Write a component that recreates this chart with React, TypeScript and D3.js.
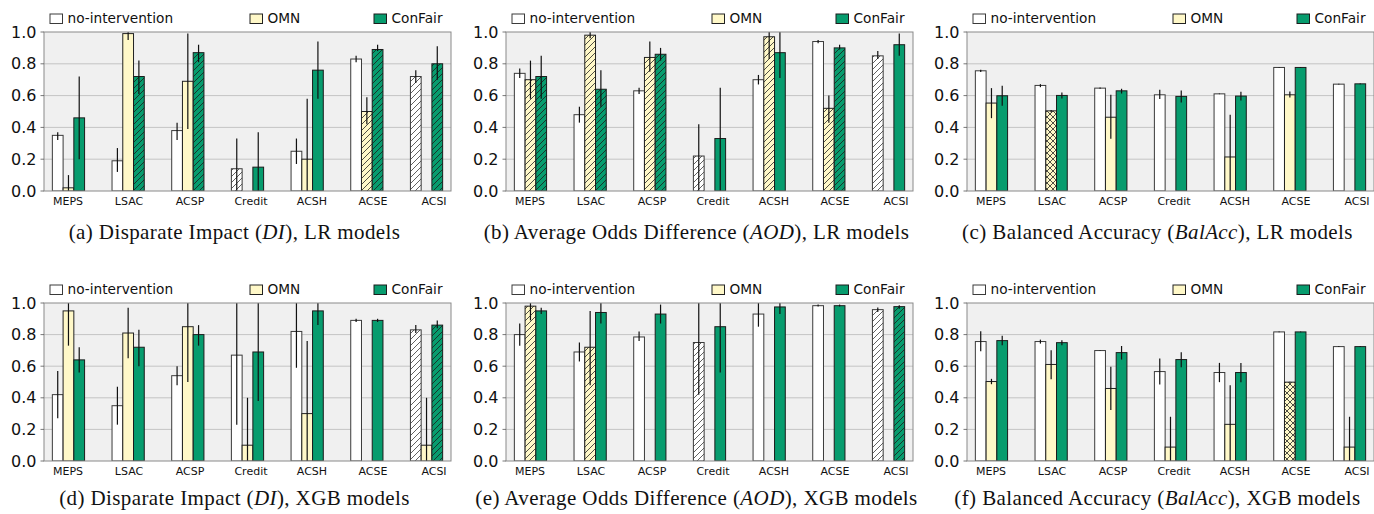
import React from "react";
import * as d3 from "d3";

// ---------- data ----------
const categories = ["MEPS", "LSAC", "ACSP", "Credit", "ACSH", "ACSE", "ACSI"];
const methods = ["no-intervention", "OMN", "ConFair"];
const yTicks = [0, 0.2, 0.4, 0.6, 0.8, 1.0];

// (a) DI, LR  — rows: no-intervention, OMN, ConFair
const aVals = [
  [0.35, 0.19, 0.38, 0.14, 0.25, 0.83, 0.72],
  [0.02, 0.99, 0.69, 0.0, 0.2, 0.5, 0.0],
  [0.46, 0.72, 0.87, 0.15, 0.76, 0.89, 0.8],
];
const aLo = [
  [0.32, 0.12, 0.32, 0.0, 0.17, 0.81, 0.68],
  [0.0, 0.95, 0.39, 0.0, 0.0, 0.42, 0.0],
  [0.2, 0.61, 0.81, 0.0, 0.58, 0.88, 0.7],
];
const aHi = [
  [0.37, 0.27, 0.43, 0.33, 0.33, 0.85, 0.76],
  [0.1, 1.0, 0.99, 0.0, 0.58, 0.59, 0.0],
  [0.72, 0.82, 0.92, 0.37, 0.94, 0.92, 0.91],
];
const aHatch = [
  ["", "", "", "/", "", "", "/"],
  ["", "", "", "", "", "/", ""],
  ["", "/", "/", "", "", "/", "/"],
];

// (b) AOD, LR
const bVals = [
  [0.74, 0.48, 0.63, 0.22, 0.7, 0.94, 0.85],
  [0.7, 0.98, 0.84, 0.0, 0.97, 0.52, 0.0],
  [0.72, 0.64, 0.86, 0.33, 0.87, 0.9, 0.92],
];
const bLo = [
  [0.71, 0.43, 0.61, 0.0, 0.67, 0.93, 0.83],
  [0.58, 0.96, 0.75, 0.0, 0.83, 0.43, 0.0],
  [0.58, 0.53, 0.82, 0.0, 0.71, 0.89, 0.85],
];
const bHi = [
  [0.77, 0.53, 0.65, 0.42, 0.73, 0.95, 0.88],
  [0.82, 1.0, 0.94, 0.0, 1.0, 0.6, 0.0],
  [0.85, 0.76, 0.9, 0.65, 1.0, 0.92, 0.99],
];
const bHatch = [
  ["", "", "", "/", "", "", "/"],
  ["/", "/", "/", "", "/", "/", ""],
  ["/", "/", "/", "", "", "/", ""],
];

// (c) BalAcc, LR
const cVals = [
  [0.756, 0.664, 0.647, 0.605, 0.611, 0.777, 0.672],
  [0.553, 0.504, 0.464, 0.0, 0.214, 0.605, 0.0],
  [0.599, 0.601, 0.63, 0.595, 0.597, 0.777, 0.674],
];
const cLo = [
  [0.748, 0.653, 0.643, 0.578, 0.609, 0.775, 0.67],
  [0.458, 0.496, 0.328, 0.0, 0.0, 0.588, 0.0],
  [0.536, 0.582, 0.613, 0.557, 0.569, 0.775, 0.672],
];
const cHi = [
  [0.762, 0.672, 0.651, 0.637, 0.613, 0.779, 0.674],
  [0.647, 0.51, 0.605, 0.0, 0.479, 0.626, 0.0],
  [0.662, 0.62, 0.643, 0.632, 0.624, 0.779, 0.676],
];
const cHatch = [
  ["", "", "", "", "", "", ""],
  ["", "x", "", "", "", "", ""],
  ["", "", "", "", "", "", ""],
];

// (d) DI, XGB
const dVals = [
  [0.42, 0.35, 0.54, 0.67, 0.82, 0.89, 0.83],
  [0.95, 0.81, 0.85, 0.1, 0.3, 0.0, 0.1],
  [0.64, 0.72, 0.8, 0.69, 0.95, 0.89, 0.86],
];
const dLo = [
  [0.27, 0.23, 0.48, 0.23, 0.59, 0.88, 0.81],
  [0.73, 0.65, 0.5, 0.0, 0.0, 0.0, 0.0],
  [0.56, 0.6, 0.73, 0.38, 0.86, 0.88, 0.84],
];
const dHi = [
  [0.57, 0.47, 0.6, 1.0, 1.0, 0.9, 0.86],
  [1.0, 0.97, 1.0, 0.4, 0.76, 0.0, 0.4],
  [0.72, 0.83, 0.86, 1.0, 1.0, 0.9, 0.89],
];
const dHatch = [
  ["", "", "", "", "", "", "/"],
  ["", "", "", "", "", "", ""],
  ["", "", "", "", "", "", "/"],
];

// (e) AOD, XGB
const eVals = [
  [0.8, 0.69, 0.785, 0.75, 0.93, 0.983, 0.958],
  [0.98, 0.72, 0.0, 0.0, 0.0, 0.0, 0.0],
  [0.95, 0.94, 0.93, 0.85, 0.975, 0.983, 0.977],
];
const eLo = [
  [0.73, 0.63, 0.76, 0.42, 0.85, 0.978, 0.943],
  [0.89, 0.48, 0.0, 0.0, 0.0, 0.0, 0.0],
  [0.93, 0.87, 0.87, 0.56, 0.93, 0.978, 0.964],
];
const eHi = [
  [0.87, 0.75, 0.82, 1.0, 1.0, 0.99, 0.971],
  [1.0, 0.95, 0.0, 0.0, 0.0, 0.0, 0.0],
  [0.97, 1.0, 0.99, 1.0, 1.0, 0.99, 0.985],
];
const eHatch = [
  ["", "", "", "/", "", "", "/"],
  ["/", "/", "", "", "", "", ""],
  ["", "", "", "", "", "", "/"],
];

// (f) BalAcc, XGB
const fVals = [
  [0.756, 0.756, 0.699, 0.566, 0.56, 0.817, 0.724],
  [0.503, 0.611, 0.459, 0.088, 0.232, 0.499, 0.088],
  [0.762, 0.749, 0.686, 0.642, 0.56, 0.817, 0.724],
];
const fLo = [
  [0.695, 0.743, 0.697, 0.484, 0.499, 0.815, 0.722],
  [0.486, 0.518, 0.322, 0.0, 0.0, 0.497, 0.0],
  [0.733, 0.733, 0.642, 0.594, 0.499, 0.815, 0.722],
];
const fHi = [
  [0.821, 0.768, 0.701, 0.648, 0.621, 0.819, 0.726],
  [0.52, 0.701, 0.596, 0.28, 0.48, 0.501, 0.28],
  [0.792, 0.764, 0.728, 0.688, 0.621, 0.819, 0.726],
];
const fHatch = [
  ["", "", "", "", "", "", ""],
  ["", "", "", "", "", "x", ""],
  ["", "", "", "", "", "", ""],
];

const panelLetters = ["a", "b", "c", "d", "e", "f"];
const metricNames = ["Disparate Impact", "Average Odds Difference", "Balanced Accuracy"];
const metricAbbr = ["DI", "AOD", "BalAcc"];
const modelNames = ["LR", "XGB"];

const panels = [
  { vals: aVals, lo: aLo, hi: aHi, hatch: aHatch },
  { vals: bVals, lo: bLo, hi: bHi, hatch: bHatch },
  { vals: cVals, lo: cLo, hi: cHi, hatch: cHatch },
  { vals: dVals, lo: dLo, hi: dHi, hatch: dHatch },
  { vals: eVals, lo: eLo, hi: eHi, hatch: eHatch },
  { vals: fVals, lo: fLo, hi: fHi, hatch: fHatch },
];

// ---------- style ----------
const W = 1374;
const H = 514;
const methodFill = ["#ffffff", "#fff8c8", "#079c6e"];
const methodEdge = ["#3a3a3a", "#222222", "#1c1c1c"];
const sans = "'DejaVu Sans', sans-serif";
const serif = "'Liberation Serif', 'Times New Roman', serif";
const colLefts = [44, 506, 967];
const plotW = 407;
const rowTops = [32, 303];
const rowBottoms = [191, 461];
const captionBaselines = [239, 505];
const barW = 0.18;
const xPad = 0.41;
const labelStretch = 1.0222;
const labelShift = -0.008;

function HatchDefs() {
  const items: any[] = [];
  methods.forEach((_, m) => {
    ["/", "x"].forEach((t) => {
      const d =
        "M-1,1 L1,-1 M0,6 L6,0 M5,7 L7,5" +
        (t === "x" ? " M-1,5 L1,7 M0,0 L6,6 M5,-1 L7,1" : "");
      items.push(
        <pattern
          key={`h${m}${t}`}
          id={`hatch-${m}-${t === "/" ? "d" : "x"}`}
          width={6}
          height={6}
          patternUnits="userSpaceOnUse"
        >
          <path d={d} stroke={methodEdge[m]} strokeWidth={0.8} fill="none" />
        </pattern>
      );
    });
  });
  return <defs>{items}</defs>;
}

function Panel({ idx }: { idx: number }) {
  const col = idx % 3;
  const row = Math.floor(idx / 3);
  const left = colLefts[col];
  const right = left + plotW;
  const top = rowTops[row];
  const bottom = rowBottoms[row];
  const p = panels[idx];

  const x = d3.scaleLinear().domain([-xPad, categories.length - 1 + xPad]).range([left, right]);
  const y = d3.scaleLinear().domain([0, 1]).range([bottom, top]);
  const bw = x(barW) - x(0);
  const clipId = `clip-${idx}`;

  const bars: any[] = [];
  const errs: any[] = [];
  methods.forEach((_, m) => {
    categories.forEach((cat, i) => {
      const v = p.vals[m][i];
      const cx = x(i + (m - 1) * barW);
      const bx = cx - bw / 2;
      const h = y(0) - y(v);
      const hatch = p.hatch[m][i];
      if (v > 0) {
        bars.push(
          <g key={`b${m}-${i}`}>
            <rect x={bx} y={y(v)} width={bw} height={h} fill={methodFill[m]} />
            {hatch && (
              <rect
                x={bx}
                y={y(v)}
                width={bw}
                height={h}
                fill={`url(#hatch-${m}-${hatch === "/" ? "d" : "x"})`}
              />
            )}
            <rect x={bx} y={y(v)} width={bw} height={h} fill="none" stroke={methodEdge[m]} strokeWidth={1} />
          </g>
        );
        errs.push(
          <line
            key={`e${m}-${i}`}
            x1={cx}
            x2={cx}
            y1={y(p.lo[m][i])}
            y2={y(p.hi[m][i])}
            stroke="#111"
            strokeWidth={1.2}
          />
        );
      }
    });
  });

  const legendBoxX = [left + 6, left + 206, left + 330];

  return (
    <g>
      <clipPath id={clipId}>
        <rect x={left} y={top} width={plotW} height={bottom - top} />
      </clipPath>
      <rect x={left} y={top} width={plotW} height={bottom - top} fill="#f0f0f0" />
      {yTicks
        .filter((t) => t > 0 && t < 1)
        .map((t) => (
          <line key={t} x1={left} x2={right} y1={y(t)} y2={y(t)} stroke="#c4c4c4" strokeWidth={1} />
        ))}
      <g clipPath={`url(#${clipId})`}>
        {bars}
        {errs}
      </g>
      <rect x={left} y={top} width={plotW} height={bottom - top} fill="none" stroke="#8a8a8a" strokeWidth={1} />
      {yTicks.map((t) => (
        <g key={`yt${t}`}>
          <line x1={left - 3.5} x2={left} y1={y(t)} y2={y(t)} stroke="#555" strokeWidth={0.8} />
          <text
            x={left - 7.5}
            y={y(t)}
            textAnchor="end"
            dominantBaseline="central"
            fontFamily={sans}
            fontSize={16}
            fill="#111"
          >
            {d3.format(".1f")(t)}
          </text>
        </g>
      ))}
      {categories.map((c, i) => (
        <text
          key={`xt${c}`}
          x={x(i * labelStretch + labelShift)}
          y={bottom + 14}
          textAnchor="middle"
          fontFamily={sans}
          fontSize={11}
          fill="#111"
        >
          {c}
        </text>
      ))}
      {methods.map((name, m) => (
        <g key={`lg${m}`}>
          <rect
            x={legendBoxX[m]}
            y={top - 18}
            width={12.5}
            height={9.5}
            fill={methodFill[m]}
            stroke={methodEdge[m]}
            strokeWidth={1}
          />
          <text x={legendBoxX[m] + 17.5} y={top - 8.7} fontFamily={sans} fontSize={13.7} fill="#111">
            {name}
          </text>
        </g>
      ))}
      <text
        x={(left + right) / 2 - 13}
        y={captionBaselines[row]}
        textAnchor="middle"
        fontFamily={serif}
        fontSize={21}
        letterSpacing={0.4}
        fill="#111"
      >
        {`(${panelLetters[idx]}) ${metricNames[col]} (`}
        <tspan fontStyle="italic">{metricAbbr[col]}</tspan>
        {`), ${modelNames[row]} models`}
      </text>
    </g>
  );
}

export default function App() {
  return (
    <svg
      width={W}
      height={H}
      viewBox={`0 0 ${W} ${H}`}
      style={{ position: "absolute", left: 0, top: 0, background: "#fff" }}
    >
      <HatchDefs />
      <rect x={0} y={0} width={W} height={H} fill="#fff" />
      {panels.map((_, i) => (
        <Panel key={i} idx={i} />
      ))}
    </svg>
  );
}
